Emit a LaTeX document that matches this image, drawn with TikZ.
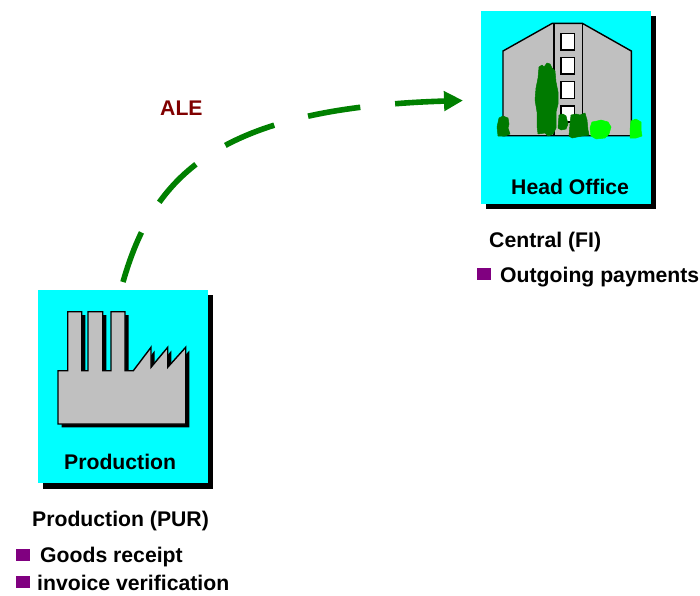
\documentclass[tikz,border=0pt]{standalone}
\usepackage{fontspec}
\setmainfont{Liberation Sans}
\usetikzlibrary{arrows.meta}
\definecolor{boxcyan}{HTML}{00FFFF}
\definecolor{arrowgreen}{HTML}{008000}
\definecolor{shrubdark}{HTML}{007A00}
\definecolor{shrublight}{HTML}{00FF00}
\definecolor{buildgray}{HTML}{C0C0C0}
\definecolor{alered}{HTML}{800000}
\definecolor{bulletpurple}{HTML}{800080}
\tikzset{
  x=1pt,y=-1pt,
  panel/.style={fill=boxcyan,draw=none,minimum width=170pt,inner sep=0pt,outer sep=0pt},
  shade/.style={fill=black,draw=none},
  building/.style={fill=buildgray,draw=black,line width=1.4pt,line join=miter},
  win/.style={fill=white,draw=black,line width=1.4pt},
  label/.style={font=\bfseries\fontsize{21.2}{24}\selectfont,anchor=base west,inner sep=0pt,text=black},
  bullet/.style={fill=bulletpurple,draw=none,minimum width=14pt,minimum height=12pt,inner sep=0pt},
  darkshrub/.style={fill=shrubdark,draw=shrubdark,line width=.5pt,line join=round},
  lightshrub/.style={fill=shrublight,draw=shrublight,line width=.5pt,line join=round},
  flow/.style={draw=arrowgreen,line width=5.6pt,dash pattern=on 53pt off 35pt,-{Triangle[length=19pt,width=19pt,fill=arrowgreen]}},
}
\begin{document}
\begin{tikzpicture}
\useasboundingbox (0,0) rectangle (700,595);
% head office panel
\fill[shade] (486,16) rectangle (656,209);
\node[panel,minimum height=193pt,anchor=north west] (head) at (481,11) {};
\path[building] (503,51) -- (552.3,23.3) -- (582.3,23.3) -- (631.3,51) -- (631.3,135.7) -- (503,135.7) -- cycle;
\draw[black,line width=1.4pt] (554,23.3) -- (554,135.7) (582.3,23.3) -- (582.3,135.7);
\draw[win] (561,33.3) rectangle (574.7,50);
\draw[win] (561,57.7) rectangle (574.7,74);
\draw[win] (561,81.7) rectangle (574.7,98.3);
\draw[win] (561,106) rectangle (574.7,122);
% shrubs
\path[darkshrub] (539,67) -- (542,65) -- (544,67) -- (547,63) -- (550,64) -- (552,68) -- (555,71) -- (556,82) -- (558,92) -- (558,104) -- (556,112) -- (556,128) -- (553,134) -- (548,136) -- (545,133) -- (538,134) -- (537,126) -- (537,112) -- (535,100) -- (536,88) -- (538,78) -- cycle;
\path[darkshrub] (499,118) -- (503,116) -- (508,118) -- (509,124) -- (508,128) -- (510,134) -- (505,136) -- (498,136) -- (497,127) -- cycle;
\path[darkshrub] (559,115) -- (563,114) -- (566,116) -- (568,124) -- (566,129) -- (561,130) -- (558,128) -- cycle;
\path[darkshrub] (571,115) -- (576,114) -- (580,115) -- (585,113) -- (587,120) -- (588,130) -- (589,135) -- (582,136) -- (572,138) -- (569,136) -- (570,124) -- cycle;
\path[lightshrub] (592,122) -- (597,121) -- (601,120) -- (608,122) -- (611,127) -- (609,134) -- (605,138) -- (596,139) -- (591,136) -- (590,128) -- cycle;
\path[lightshrub] (631,121) -- (636,119) -- (641,122) -- (641,130) -- (642,136) -- (636,138) -- (630,138) -- (630,130) -- cycle;
\node[label] (headtext) at (511,194) {Head Office};
% production panel
\fill[shade] (43,295) rectangle (213,488.5);
\node[panel,minimum height=193pt,anchor=north west] (prod) at (38,290) {};
\fill[black,xshift=3.6pt,yshift=-3.3pt] (58,370.7) -- (67.7,370.7) -- (67.7,311.7) -- (81.7,311.7) -- (81.7,370.7) -- (88,370.7) -- (88,311.7) -- (102.7,311.7) -- (102.7,370.7) -- (111,370.7) -- (111,311.7) -- (125,311.7) -- (125,370.7) -- (133.3,370.7) -- (151,347.3) -- (151,367.3) -- (167.7,347.3) -- (167.7,367.3) -- (185.7,347.3) -- (185.7,424) -- (58,424) -- cycle;
\path[building] (58,370.7) -- (67.7,370.7) -- (67.7,311.7) -- (81.7,311.7) -- (81.7,370.7) -- (88,370.7) -- (88,311.7) -- (102.7,311.7) -- (102.7,370.7) -- (111,370.7) -- (111,311.7) -- (125,311.7) -- (125,370.7) -- (133.3,370.7) -- (151,347.3) -- (151,367.3) -- (167.7,347.3) -- (167.7,367.3) -- (185.7,347.3) -- (185.7,424) -- (58,424) -- cycle;
\node[label] (prodtext) at (64,469) {Production};
% connector
\coordinate (flowstart) at (123,282);
\coordinate (flowc1) at (153,177);
\coordinate (flowc2) at (216,108);
\coordinate (flowend) at (463,100.5);
\path[flow] (flowstart) .. controls (flowc1) and (flowc2) .. (flowend);
\node[label,text=alered] (ale) at (160,115) {ALE};
% labels
\node[label] (central) at (489,247) {Central (FI)};
\node[bullet,anchor=north west] (b3) at (477,268) {};
\node[label] (pay) at (500,282) {Outgoing payments};
\node[label] (pur) at (32,526.5) {Production (PUR)};
\node[bullet,anchor=north west] (b1) at (16,549) {};
\node[label] (goods) at (40,562.5) {Goods receipt};
\node[bullet,anchor=north west] (b2) at (16,576) {};
\node[label] (inv) at (37,590.5) {invoice verification};
\end{tikzpicture}
\end{document}
